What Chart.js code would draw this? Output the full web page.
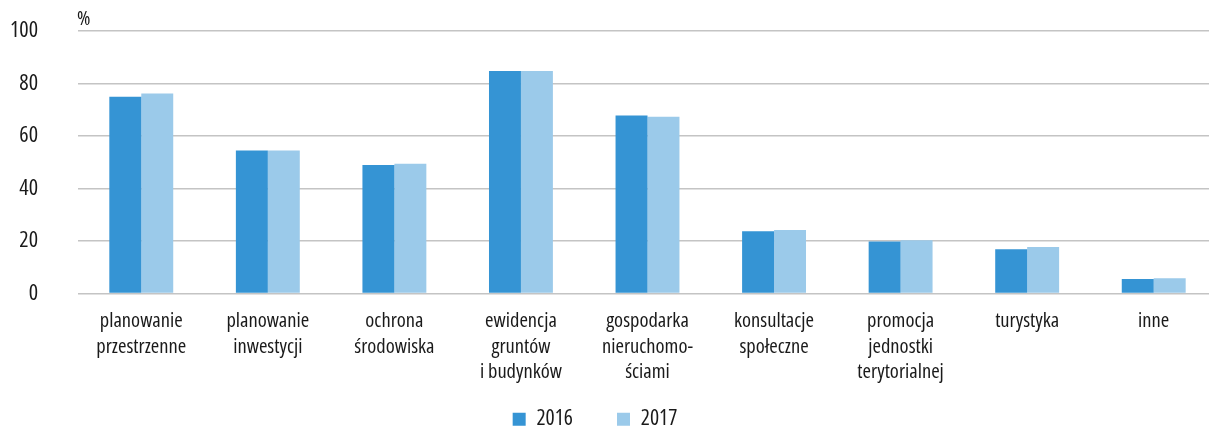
<!DOCTYPE html>
<html>
<head>
<meta charset="utf-8">
<script src="https://cdn.jsdelivr.net/npm/chart.js@4.4.1/dist/chart.umd.min.js"></script>
<style>
  html, body { margin: 0; padding: 0; background: #ffffff; overflow: hidden; width: 1209px; height: 432px; }
  #wrap { position: absolute; left: -27px; top: 0; width: 1244px; height: 440px; }
</style>
</head>
<body>
<div id="wrap"><canvas id="c" width="1244" height="440"></canvas></div>
<script>
const categories = [
  ["planowanie", "przestrzenne"],
  ["planowanie", "inwestycji"],
  ["ochrona", "środowiska"],
  ["ewidencja", "gruntów", "i budynków"],
  ["gospodarka", "nieruchomo-", "ściami"],
  ["konsultacje", "społeczne"],
  ["promocja", "jednostki", "terytorialnej"],
  ["turystyka"],
  ["inne"]
];
const seriesNames = ["2016", "2017"];
const values2016 = [75.0, 54.5, 49.0, 84.8, 67.8, 23.7, 19.8, 16.9, 5.5];
const values2017 = [76.2, 54.5, 49.4, 84.8, 67.3, 24.2, 20.3, 17.7, 5.8];
const yTicks = [0, 20, 40, 60, 80, 100];
const unitLabel = "%";

const FAMILY = "'Open Sans', 'Roboto', sans-serif";
const STRETCH = "condensed";   // goes into Chart.js font weight slot -> "condensed 20px 'Open Sans'"
const TEXT = "#1a1a1a";
const fnt = (size, extra) => Object.assign({ family: FAMILY, size: size, weight: STRETCH }, extra || {});

const unitPlugin = {
  id: 'unitLabel',
  afterLayout(chart) {
    // let the multi-line category labels overflow their (shortened) axis box
    const xs = chart.scales.x;
    xs.bottom = xs.top + 100;
  },
  afterDraw(chart) {
    const ctx = chart.ctx;
    ctx.save();
    ctx.font = STRETCH + " 20.5px " + FAMILY;
    ctx.fillStyle = TEXT;
    ctx.textAlign = "left";
    ctx.textBaseline = "alphabetic";
    ctx.fillText(unitLabel, chart.chartArea.left - 1, chart.chartArea.top - 6);
    ctx.restore();
  }
};

new Chart(document.getElementById('c'), {
  type: 'bar',
  data: {
    labels: categories,
    datasets: [
      { label: seriesNames[0], data: values2016, backgroundColor: '#3594d4', borderWidth: 0 },
      { label: seriesNames[1], data: values2017, backgroundColor: '#9bcaea', borderWidth: 0 }
    ]
  },
  options: {
    responsive: false,
    animation: false,
    layout: { padding: { top: 31, left: 0, right: 0, bottom: 0 } },
    plugins: {
      legend: {
        position: 'bottom',
        labels: {
          boxWidth: 13,
          boxHeight: 13,
          padding: 44,
          color: TEXT,
          font: fnt(21.5)
        }
      },
      tooltip: { enabled: false }
    },
    datasets: {
      bar: { categoryPercentage: 0.505, barPercentage: 1.0 }
    },
    scales: {
      x: {
        grid: { display: false, drawTicks: false },
        border: { display: false },
        afterFit(scale) { scale.height = 71; scale.paddingLeft = 0; scale.paddingRight = 0; },
        ticks: {
          color: TEXT,
          font: fnt(20.5, { lineHeight: 1.25 }),
          padding: 15,
          maxRotation: 0,
          autoSkip: false
        }
      },
      y: {
        min: 0,
        max: 100,
        afterBuildTicks(scale) { scale.ticks = yTicks.map(v => ({ value: v })); },
        afterFit(scale) { scale.width = 105; scale.paddingTop = 0; scale.paddingBottom = 0; },
        grid: { color: '#c4c4c4', lineWidth: 1.5, drawTicks: false },
        border: { display: false },
        ticks: {
          color: TEXT,
          font: fnt(22),
          padding: 40
        }
      }
    }
  },
  plugins: [unitPlugin]
});
</script>
</body>
</html>
